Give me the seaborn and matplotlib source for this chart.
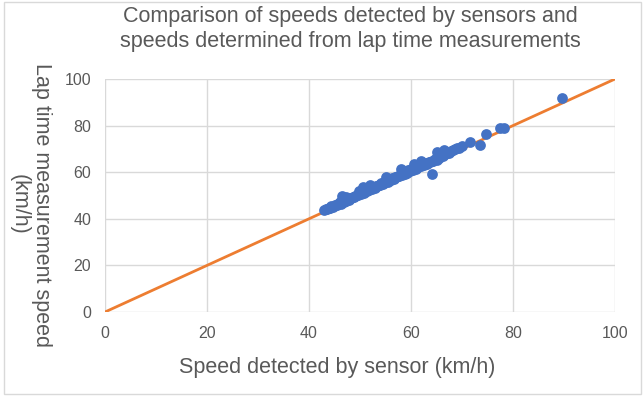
import matplotlib
matplotlib.use("Agg")
import matplotlib.pyplot as plt
import seaborn as sns
import pandas as pd
from matplotlib.patches import Rectangle

# speeds (km/h)
sensor_speed = [43.0, 43.3, 43.6, 43.9, 44.1, 44.4, 44.7, 45.0, 45.2, 45.5,
                45.8, 46.0, 46.2, 46.5, 46.8, 47.0, 47.3, 47.5, 47.8, 48.0,
                48.3, 48.6, 48.9, 49.1, 49.4, 49.7, 50.0, 50.2, 50.5, 50.8,
                51.0, 51.3, 51.5, 51.8, 52.0, 52.3, 52.6, 52.9, 53.1, 53.4,
                53.7, 54.0, 54.2, 54.5, 54.8, 55.0, 55.3, 55.5, 55.8, 56.0,
                56.3, 56.6, 56.9, 57.1, 57.4, 57.7, 58.0, 58.2, 58.5, 58.8,
                59.0, 59.3, 59.5, 59.8, 60.0, 60.3, 60.6, 60.9, 61.1, 61.4,
                61.7, 62.0, 62.3, 62.6, 62.9, 63.2, 63.5, 63.8, 64.1, 64.4,
                64.7, 65.0, 65.4, 65.8, 66.2, 66.6, 67.0, 67.4, 67.8, 68.2,
                68.6, 69.0, 69.5, 70.0,
                46.5, 47.2, 49.8, 50.5, 52.0, 55.0, 58.0, 60.5, 62.0, 64.2,
                65.0, 66.5, 71.6, 73.5, 74.8, 77.5, 78.2, 89.6]
lap_speed = [43.6, 44.0, 44.2, 44.8, 44.6, 45.3, 45.0, 45.9, 46.0, 45.8,
             46.6, 47.0, 46.5, 47.4, 47.0, 48.0, 47.6, 48.4, 48.1, 49.0,
             48.8, 49.5, 49.2, 50.0, 50.4, 50.1, 51.0, 50.6, 51.5, 51.2,
             52.0, 51.8, 52.6, 52.3, 53.1, 52.8, 53.6, 53.3, 54.2, 53.9,
             54.7, 54.4, 55.3, 55.0, 55.8, 55.6, 56.4, 56.0, 57.0, 56.6,
             57.5, 57.1, 58.0, 57.8, 58.5, 58.2, 59.1, 58.8, 59.6, 59.3,
             60.2, 59.8, 60.8, 60.5, 61.3, 61.0, 61.8, 61.5, 62.4, 62.1,
             62.9, 62.5, 63.4, 63.1, 64.0, 63.6, 64.5, 64.3, 65.0, 64.8,
             65.6, 65.3, 66.2, 66.8, 67.1, 67.6, 68.1, 68.4, 69.0, 69.4,
             69.8, 70.3, 70.6, 71.2,
             50.0, 49.5, 52.0, 53.8, 54.5, 57.8, 61.5, 63.5, 65.0, 59.2,
             68.5, 69.5, 72.8, 71.7, 76.4, 79.1, 79.1, 91.8]

# y = x reference line
ref_x = [0, 100]
ref_y = [0, 100]

df = pd.DataFrame({"sensor": sensor_speed, "lap": lap_speed})
ref_df = pd.DataFrame({"x": ref_x, "y": ref_y})

sns.set_style("white")
plt.rcParams["font.family"] = ["Liberation Sans", "DejaVu Sans"]
text_col = "#595959"

fig = plt.figure(figsize=(6.44, 3.96), dpi=100)
ax = fig.add_axes([105 / 644, 1 - 312 / 396, 510 / 644, 233 / 396])

sns.lineplot(data=ref_df, x="x", y="y", color="#ED7D31", linewidth=2, ax=ax, zorder=2)
sns.scatterplot(data=df, x="sensor", y="lap", color="#4472C4", s=60,
                edgecolor="#4472C4", linewidth=0, ax=ax, zorder=3)

ax.set_xlim(0, 100)
ax.set_ylim(0, 100)
ax.set_xticks(range(0, 101, 20))
ax.set_yticks(range(0, 101, 20))
ax.grid(True, color="#D9D9D9", linewidth=1)
ax.set_axisbelow(True)
for s in ax.spines.values():
    s.set_visible(False)
ax.tick_params(length=0, labelsize=11.5, labelcolor=text_col, pad=10)

ax.set_xlabel("Speed detected by sensor (km/h)", fontsize=15.5, color=text_col, va="center")
ax.xaxis.set_label_coords(0.455, -0.24)
ax.set_ylabel("Lap time measurement speed\n(km/h)", fontsize=15.5, color=text_col,
              rotation=270, linespacing=1.1, va="center", ha="center")
ax.yaxis.set_label_coords(-0.147, 0.46)

fig.text(350 / 644, 1 - 29 / 396,
         "Comparison of speeds detected by sensors and\nspeeds determined from lap time measurements",
         ha="center", va="center", fontsize=15.5, color=text_col, linespacing=1.25)

# light chart border
fig.patches.append(Rectangle((0.006, 0.004), 0.99, 0.99, transform=fig.transFigure,
                             fill=False, edgecolor="#D9D9D9", linewidth=1))

fig.savefig("out.png", dpi=100)
